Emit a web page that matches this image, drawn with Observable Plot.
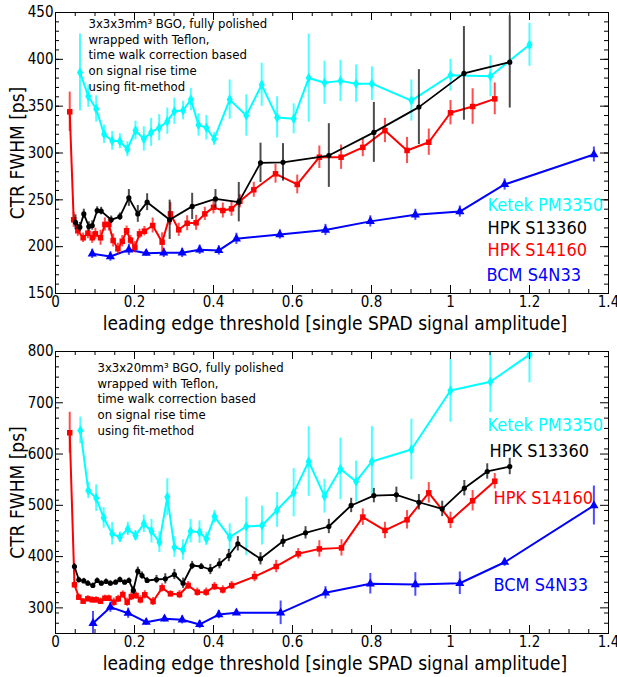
<!DOCTYPE html>
<html>
<head>
<meta charset="utf-8">
<script src="https://cdn.jsdelivr.net/npm/d3@7"></script>
<script src="https://cdn.jsdelivr.net/npm/@observablehq/plot@0.6"></script>
<style>
  html, body { margin: 0; padding: 0; background: #fff; }
  #chart { width: 617px; }
  #chart svg { display: block; }
</style>
</head>
<body>
<div id="chart"></div>
<script>
// ---------- DATA: 3x3x3 mm³ BGO (top panel) ----------
const ketek3_x = [0.062,0.083,0.103,0.123,0.1435,0.163,0.182,0.2025,0.2236,0.242,0.2625,0.283,0.301,0.323,0.3426,0.362,0.382,0.4017,0.441,0.483,0.522,0.561,0.603,0.641,0.681,0.7215,0.761,0.801,0.901,1.0,1.101,1.2];
const ketek3_y = [386,360.6,347,320,313,312.6,304,324,315,322,327,334,344.6,345.4,357,330,327,315,357,340,372.8,338,336.5,380,375,377,374,374,356,383,382,415.5];
const ketek3_e = [41,12,14,10,10,8,8,10,13,15,14,14,14,10,12,12,13,7,21,22,23,22,16,47,23,22,20,18,22,17,22,23];

const hpk13_3_x = [0.0506,0.0616,0.0717,0.0844,0.093,0.1055,0.1156,0.141,0.163,0.1857,0.2084,0.232,0.289,0.346,0.405,0.464,0.519,0.576,0.692,0.806,0.92,1.034,1.15];
const hpk13_3_y = [226,220.8,235,221.5,222.6,238.6,238,228.7,232,252,235,247.5,228.7,243,251,247.5,289.5,290,297.3,322,349,385,397];
const hpk13_3_e = [8,5,5,5,5,4,4,4,4,9,9,9,21,14,10,21,21,20,34,32,40,50,49];

const hpk14_3_x = [0.036,0.046,0.0565,0.07,0.082,0.093,0.101,0.114,0.125,0.135,0.146,0.158,0.169,0.18,0.19,0.201,0.2127,0.225,0.246,0.27,0.291,0.312,0.3333,0.356,0.378,0.4,0.4236,0.4456,0.4667,0.502,0.557,0.612,0.668,0.723,0.778,0.834,0.89,0.945,1.0,1.056,1.112];
const hpk14_3_y = [344,228.7,217,209.5,214.4,209.5,213.7,209.5,223.7,223.7,206.6,197.7,205.8,217,207,199.4,213.7,216.5,222.6,204.8,235,218,225,225.5,235,242,238.6,240.4,248.5,260.7,277.8,266.4,295.5,295.5,306,324,302.7,311.5,343,349.6,357.8];
const hpk14_3_e = [21,8,6,5,6,6,6,8,7,7,7,6,6,5,5,6,5,5,8,10,12,7,8,8,7,7,8,8,7,8,10,10,12,13,10,13,14,14,13,19,17];

const bcm3_x = [0.093,0.139,0.1857,0.2296,0.274,0.3207,0.365,0.4135,0.458,0.568,0.6835,0.797,0.911,1.0236,1.137,1.363];
const bcm3_y = [192.4,189.5,196.7,193,193.4,193.4,196.7,196,208.4,213,217.8,227,234,237.5,266.4,298.4];
const bcm3_e = [5,5,6,3,5,5,5,5,6,5,6,6,6,6,6,8];

// ---------- DATA: 3x3x20 mm³ BGO (bottom panel) ----------
const ketek20_x = [0.063,0.083,0.103,0.122,0.1435,0.163,0.183,0.2025,0.2236,0.243,0.263,0.283,0.301,0.3225,0.342,0.3646,0.382,0.4025,0.441,0.483,0.523,0.561,0.603,0.641,0.681,0.7215,0.761,0.801,0.901,1.0,1.101,1.2];
const ketek20_y = [646,529,514,475.6,444.4,437.8,454,441,464,449.6,428,516,418.4,413,449.6,447.6,434.6,478,437.8,458.7,460.6,491,524.4,585.5,517.8,571,546.5,585.5,609,724,741,794];
const ketek20_e = [26,16,26,20,22,10,13,10,17,23,20,36,20,20,23,22,13,12,26,57,38,34,47,68,33,60,40,68,59,62,60,55];

const hpk13_20_x = [0.048,0.059,0.0717,0.082,0.0945,0.1055,0.116,0.128,0.139,0.152,0.163,0.175,0.1857,0.197,0.2084,0.219,0.232,0.2557,0.278,0.301,0.323,0.346,0.369,0.392,0.415,0.4388,0.4616,0.519,0.576,0.633,0.692,0.7485,0.806,0.863,0.92,0.979,1.035,1.093,1.15];
const hpk13_20_y = [380.7,354.7,352.6,348,343.6,353.4,348,351.4,348,350,355,350,353.4,334,371.5,363,353.4,355.3,356.6,365,348,382.6,380.7,374.8,386,402,425,395.7,430,446.4,458.7,499.7,519,520.5,506,493,533.4,566,575.7];
const hpk13_20_e = [6,5,5,5,5,5,5,5,5,5,5,5,5,8,8,7,6,8,10,10,10,8,6,10,10,12,14,12,12,12,14,14,14,15,15,15,15,15,16];

const hpk14_20_x = [0.036,0.048,0.059,0.07,0.0818,0.093,0.103,0.114,0.125,0.135,0.1477,0.159,0.1704,0.1814,0.192,0.204,0.215,0.226,0.247,0.27,0.291,0.314,0.336,0.359,0.3815,0.4025,0.4236,0.446,0.504,0.5587,0.6144,0.668,0.724,0.778,0.834,0.89,0.945,1.0,1.056,1.112];
const hpk14_20_y = [641.5,345,320.8,313,317.7,315.7,315.7,313,318.8,318.8,311,317.6,326,311,322,324,315.7,325.5,312.4,339,327.4,326,343.6,330.6,330.6,341.6,335,343.6,361,380.7,405.5,415,417,477,451,471.7,524.4,470.6,509,547];
const hpk14_20_e = [40,6,6,5,6,6,6,6,6,6,8,7,7,8,8,7,8,8,8,8,6,8,8,8,8,8,8,8,10,12,10,16,16,16,16,18,20,16,20,15];

const bcm20_x = [0.095,0.139,0.184,0.2296,0.276,0.3207,0.365,0.4135,0.458,0.57,0.6835,0.797,0.911,1.0236,1.137,1.363];
const bcm20_y = [270,301.4,289.6,272,278.6,276.7,267.6,287,290.3,290.3,329.4,347,345.6,348,389,499.6];
const bcm20_e = [23,10,10,6,6,8,8,8,5,23,12,20,23,22,8,38];

// ---------- LABELS / TICKS ----------
const seriesNames = ["Ketek PM3350", "HPK S13360", "HPK S14160", "BCM S4N33"];
const seriesColors = ["#00ffff", "#000000", "#ff0000", "#0000ff"];
const seriesSymbols = ["diamond", "circle", "square", "triangle"];
const xTicks = [0, 0.2, 0.4, 0.6, 0.8, 1, 1.2, 1.4];
const yTicksTop = [150, 200, 250, 300, 350, 400, 450];
const yTicksBottom = [300, 400, 500, 600, 700, 800];
const xLabel = "leading edge threshold [single SPAD signal amplitude]";
const yLabel = "CTR FWHM [ps]";
const noteTop = ["3x3x3mm³ BGO, fully polished", "wrapped with Teflon,", "time walk correction based", "on signal rise time", "using fit-method"];
const noteBottom = ["3x3x20mm³ BGO, fully polished", "wrapped with Teflon,", "time walk correction based", "on signal rise time", "using fit-method"];

function rows(xs, ys, es) { return xs.map((x, i) => ({x, y: ys[i], e: es[i]})); }

const FONT = "'DejaVu Sans Condensed', 'DejaVu Sans', sans-serif";

function panel(cfg) {
  const {height, mt, mb, ml = 55, mr = 9, yDomain, yTicks, yMinorStep, data, legendPos, note, notePos} = cfg;
  const W = 617;
  const ph = height - mt - mb;
  const pw = W - ml - mr;
  const xMinor = d3.range(0, 1.4001, 0.05).map(v => +v.toFixed(2));
  const yMinor = d3.range(yDomain[0], yDomain[1] + 0.001, yMinorStep);
  const marks = [];
  const order = [0, 3, 2, 1];
  for (const i of order) {
    const d = data[i];
    const c = seriesColors[i];
    marks.push(Plot.ruleX(d, {x: "x", y1: r => r.y - r.e, y2: r => r.y + r.e, stroke: c, strokeWidth: 2, strokeOpacity: 0.7, clip: true}));
    marks.push(Plot.line(d, {x: "x", y: "y", stroke: c, strokeWidth: i === 1 ? 1.8 : 2, clip: true}));
    const r = {diamond: 3.2, circle: 2.6, square: 3.1, triangle: 3.4}[seriesSymbols[i]];
    marks.push(Plot.dot(d, {x: "x", y: "y", fill: c, stroke: "none", symbol: () => seriesSymbols[i], r, clip: true}));
  }
  marks.push(Plot.frame({stroke: "black", strokeWidth: 1}));
  marks.push(Plot.tickX(xMinor, {x: d => d, insetTop: ph - 4, stroke: "black"}));
  marks.push(Plot.tickX(xMinor, {x: d => d, insetBottom: ph - 4, stroke: "black"}));
  marks.push(Plot.tickX(xTicks, {x: d => d, insetTop: ph - 8, stroke: "black"}));
  marks.push(Plot.tickX(xTicks, {x: d => d, insetBottom: ph - 8, stroke: "black"}));
  marks.push(Plot.tickY(yMinor, {y: d => d, insetRight: pw - 4, stroke: "black"}));
  marks.push(Plot.tickY(yMinor, {y: d => d, insetLeft: pw - 4, stroke: "black"}));
  marks.push(Plot.tickY(yTicks, {y: d => d, insetRight: pw - 8, stroke: "black"}));
  marks.push(Plot.tickY(yTicks, {y: d => d, insetLeft: pw - 8, stroke: "black"}));
  marks.push(Plot.axisX(xTicks, {tickSize: 0, tickPadding: 3, tickFormat: d => String(d), label: null, fontSize: 15}));
  marks.push(Plot.axisY(yTicks, {tickSize: 0, tickPadding: 2, label: null, fontSize: 15}));
  marks.push(Plot.text([xLabel], {frameAnchor: "bottom", dy: 30, dx: 3, fontSize: 19, textAnchor: "middle", lineAnchor: "middle", fill: "black"}));
  marks.push(Plot.text([yLabel], {frameAnchor: "left", dx: -38, rotate: -90, fontSize: 19, textAnchor: "middle", lineAnchor: "middle", fill: "black"}));
  seriesNames.forEach((name, i) => {
    marks.push(Plot.text([name], {frameAnchor: "top-left", dx: legendPos[i][0], dy: legendPos[i][1], textAnchor: "start", lineAnchor: "middle", fontSize: 18, fill: seriesColors[i]}));
  });
  marks.push(Plot.text([note.join("\n")], {frameAnchor: "top-left", dx: notePos[0], dy: notePos[1], textAnchor: "start", lineAnchor: "top", lineHeight: 1.22, fontSize: 13, fill: "black"}));

  return Plot.plot({
    width: W, height, marginLeft: ml, marginRight: mr, marginTop: mt, marginBottom: mb,
    style: {fontFamily: FONT, fontStretch: "condensed", color: "black", background: "white", overflow: "visible"},
    x: {domain: [0, 1.4]},
    y: {domain: yDomain},
    marks
  });
}

const topData = [
  rows(ketek3_x, ketek3_y, ketek3_e),
  rows(hpk13_3_x, hpk13_3_y, hpk13_3_e),
  rows(hpk14_3_x, hpk14_3_y, hpk14_3_e),
  rows(bcm3_x, bcm3_y, bcm3_e)
];
const bottomData = [
  rows(ketek20_x, ketek20_y, ketek20_e),
  rows(hpk13_20_x, hpk13_20_y, hpk13_20_e),
  rows(hpk14_20_x, hpk14_20_y, hpk14_20_e),
  rows(bcm20_x, bcm20_y, bcm20_e)
];

const chart = document.getElementById("chart");
chart.append(panel({
  height: 337, mt: 12, mb: 44, yDomain: [150, 450], yTicks: yTicksTop, yMinorStep: 10,
  data: topData,
  legendPos: [[432, 193], [432, 216], [432, 238], [431, 263]],
  note: noteTop, notePos: [33, 4]
}));
chart.append(panel({
  height: 340, mt: 14, mb: 44, yDomain: [250, 800], yTicks: yTicksBottom, yMinorStep: 20,
  data: bottomData,
  legendPos: [[432, 74], [434, 100], [438, 147], [438, 234]],
  note: noteBottom, notePos: [42, 9]
}));
</script>
</body>
</html>
